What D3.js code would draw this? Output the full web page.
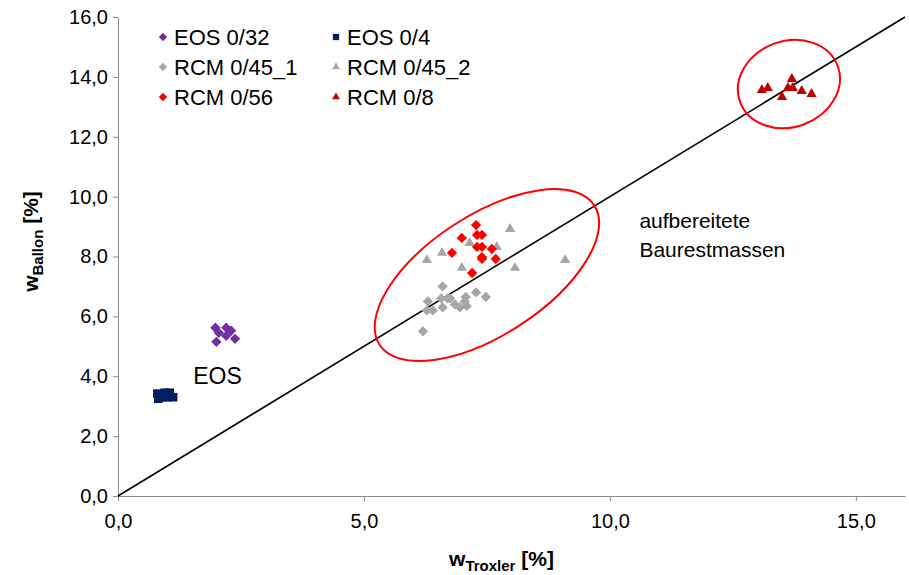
<!DOCTYPE html>
<html>
<head>
<meta charset="utf-8">
<script src="https://cdn.jsdelivr.net/npm/d3@7"></script>
<style>
  body { margin: 0; background: #fff; }
  text { font-family: "Liberation Sans", Arial, sans-serif; }
  .axis path, .axis line { stroke: #8c8c8c; }
  .axis text { font-size: 20px; fill: #000; }
</style>
</head>
<body>
<div id="chart"></div>
<script>
// data: [wTroxler, wBallon] in %
var eos032 = [[1.98, 5.62], [2.0, 5.15], [2.2, 5.62], [2.3, 5.52], [2.2, 5.35], [2.38, 5.25], [2.05, 5.45]];
var eos04 = [[0.8, 3.42], [0.82, 3.25], [0.95, 3.45], [1.0, 3.3], [1.05, 3.45], [1.12, 3.3], [0.9, 3.3]];
var rcm045_1 = [[6.2, 5.5], [6.3, 6.5], [6.28, 6.2], [6.4, 6.2], [6.6, 7.0], [6.57, 6.6], [6.7, 6.6],
  [6.75, 6.6], [6.85, 6.4], [6.6, 6.3], [7.07, 6.65], [7.09, 6.35], [7.05, 6.5], [7.28, 6.8], [7.48, 6.65], [6.95, 6.3]];
var rcm045_2 = [[6.28, 7.88], [6.59, 8.12], [6.99, 7.62], [7.15, 8.45], [7.7, 8.32], [7.97, 8.92], [8.07, 7.62], [9.09, 7.88]];
var rcm056 = [[7.28, 9.05], [7.3, 8.72], [7.4, 8.72], [6.99, 8.62], [6.79, 8.12], [7.3, 8.32], [7.4, 8.32],
  [7.6, 8.25], [7.4, 7.98], [7.4, 7.92], [7.68, 7.92], [7.2, 7.45]];
var rcm08 = [[13.09, 13.56], [13.21, 13.63], [13.7, 13.93], [13.62, 13.63], [13.72, 13.63], [13.5, 13.33], [13.9, 13.53], [14.1, 13.43]];

var series = [
  { name: "EOS 0/32", data: eos032, shape: "diamond", color: "#7030a0" },
  { name: "EOS 0/4", data: eos04, shape: "square", color: "#002060" },
  { name: "RCM 0/45_1", data: rcm045_1, shape: "diamond", color: "#a6a6a6" },
  { name: "RCM 0/45_2", data: rcm045_2, shape: "triangle", color: "#a6a6a6" },
  { name: "RCM 0/56", data: rcm056, shape: "diamond", color: "#ff0000" },
  { name: "RCM 0/8", data: rcm08, shape: "triangle", color: "#c00000" }
];

var xTicks = [0, 5, 10, 15];
var yTicks = [0, 2, 4, 6, 8, 10, 12, 14, 16];
var diagonal = [[0, 0], [16, 16]];

// annotation ellipses: center in data units, semi axes in px, rotation deg
var ellipses = [
  { cx: 7.5, cy: 7.38, a: 128, b: 60, rot: -33 },
  { cx: 13.64, cy: 13.76, a: 52, b: 43, rot: -20 }
];
var notes = [
  { text: "EOS", x: 1.53, y: 3.73, size: 23 },
  { text: "aufbereitete", x: 10.6, y: 8.95, size: 21 },
  { text: "Baurestmassen", x: 10.6, y: 8.0, size: 21 }
];

var margin = {top: 17, right: 4, bottom: 79, left: 118};
var width = 909 - margin.left - margin.right;
var height = 575 - margin.top - margin.bottom;

var xScale = d3.scaleLinear().domain([0, 16]).range([0, width]);
var yScale = d3.scaleLinear().domain([0, 16]).range([height, 0]);
var fmt = function(d) { return d3.format(".1f")(d).replace(".", ","); };

var svg = d3.select("#chart").append("svg")
  .attr("width", 909)
  .attr("height", 575)
  .append("g")
  .attr("transform", `translate(${margin.left},${margin.top})`);

// axes
svg.append("g")
  .attr("class", "x axis")
  .attr("transform", "translate(0," + height + ")")
  .call(d3.axisBottom(xScale).tickValues(xTicks).tickFormat(fmt).tickSize(5).tickSizeOuter(0))
  .selectAll("text").attr("y", 14).attr("dy", "0.9em");
svg.append("g")
  .attr("class", "y axis")
  .call(d3.axisLeft(yScale).tickValues(yTicks).tickFormat(fmt).tickSize(5).tickSizeOuter(0))
  .selectAll("text").attr("x", -10);

// diagonal 1:1 line
var line = d3.line()
  .x(function(d) { return xScale(d[0]); })
  .y(function(d) { return yScale(d[1]); });
svg.append("path")
  .datum(diagonal)
  .attr("d", line)
  .attr("stroke", "#000")
  .attr("stroke-width", 1.6)
  .attr("fill", "none");

// markers
var shapes = {
  diamond: d3.symbol().type(d3.symbolDiamond2).size(68),
  square: d3.symbol().type(d3.symbolSquare2).size(95),
  triangle: d3.symbol().type(d3.symbolTriangle2).size(75)
};
series.forEach(function(s) {
  svg.append("g").selectAll("path")
    .data(s.data)
    .enter().append("path")
    .attr("d", shapes[s.shape])
    .attr("transform", function(d) { return `translate(${xScale(d[0])},${yScale(d[1])})`; })
    .attr("fill", s.color);
});

// ellipses
svg.append("g").selectAll("ellipse")
  .data(ellipses)
  .enter().append("ellipse")
  .attr("transform", function(d) { return `translate(${xScale(d.cx)},${yScale(d.cy)}) rotate(${d.rot})`; })
  .attr("rx", function(d) { return d.a; })
  .attr("ry", function(d) { return d.b; })
  .attr("fill", "none")
  .attr("stroke", "#ff0000")
  .attr("stroke-width", 2);

// annotations
svg.append("g").selectAll("text")
  .data(notes)
  .enter().append("text")
  .attr("x", function(d) { return xScale(d.x); })
  .attr("y", function(d) { return yScale(d.y); })
  .attr("font-size", function(d) { return d.size; })
  .text(function(d) { return d.text; });

// legend
var legend = svg.append("g").attr("transform", "translate(45,20)");
series.forEach(function(s, i) {
  var col = i % 2, row = Math.floor(i / 2);
  var g = legend.append("g").attr("transform", `translate(${col * 173},${row * 30})`);
  var sym = d3.symbol().type(s.shape === "diamond" ? d3.symbolDiamond2 : s.shape === "square" ? d3.symbolSquare2 : d3.symbolTriangle2)
    .size(s.shape === "square" ? 50 : 44);
  g.append("path").attr("d", sym).attr("fill", s.color);
  g.append("text").attr("x", 11).attr("y", 8).attr("font-size", 22).text(s.name);
});

// axis titles
var xt = svg.append("text")
  .attr("x", width / 2 - 10)
  .attr("y", height + 70)
  .attr("text-anchor", "middle")
  .attr("font-weight", "bold")
  .attr("font-size", 21);
xt.append("tspan").text("w");
xt.append("tspan").attr("font-size", 15).attr("dy", 5).text("Troxler");
xt.append("tspan").attr("dy", -5).text(" [%]");

var yt = svg.append("text")
  .attr("transform", `translate(-80,${height / 2 - 15}) rotate(-90)`)
  .attr("text-anchor", "middle")
  .attr("font-weight", "bold")
  .attr("font-size", 21);
yt.append("tspan").text("w");
yt.append("tspan").attr("font-size", 15).attr("dy", 5).text("Ballon");
yt.append("tspan").attr("dy", -5).text(" [%]");
</script>
</body>
</html>
